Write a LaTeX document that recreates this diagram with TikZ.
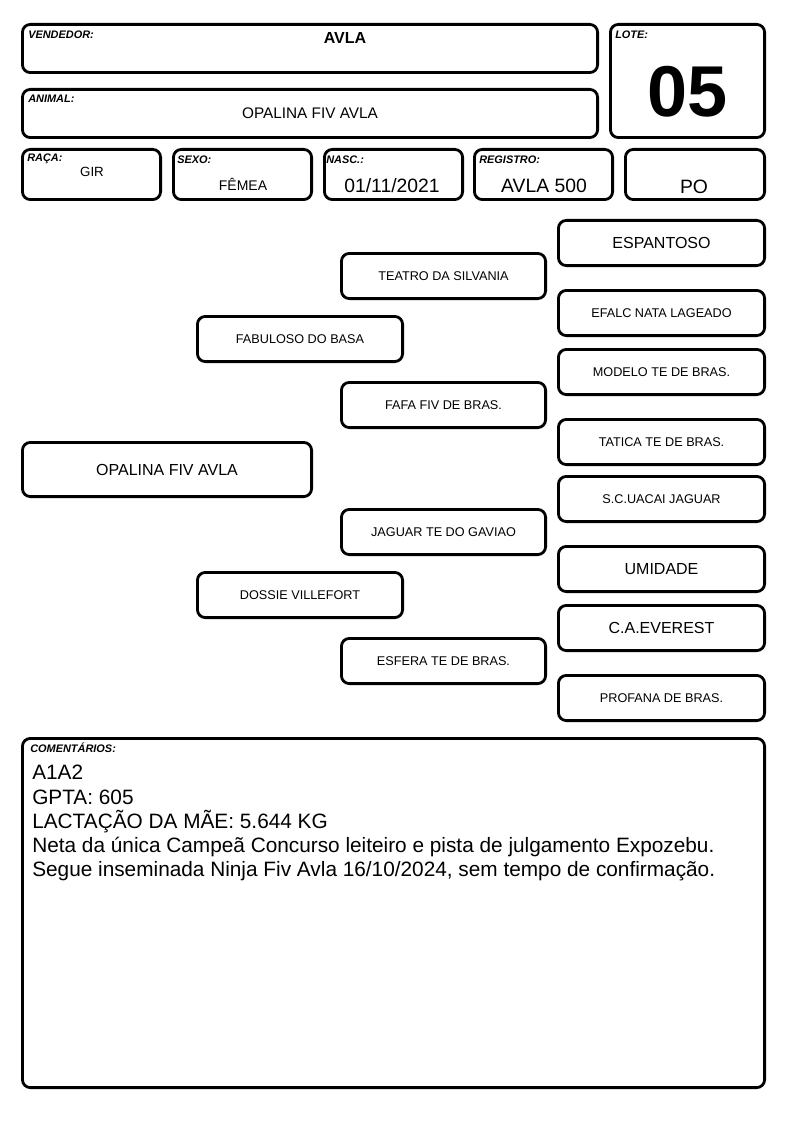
\documentclass[tikz,border=0pt]{standalone}
\usepackage{fontspec}
\setmainfont{Liberation Sans}
\tikzset{
  x=0.75pt, y=-0.75pt,
  box/.style={draw, line width=2.1pt, rounded corners=6pt, inner sep=0pt, align=center},
  sz/.style 2 args={minimum width=#1*0.75pt-2.1pt, minimum height=#2*0.75pt-2.1pt},
  lbl/.style={inner sep=0pt, anchor=west, font=\fontsize{8.2}{9}\selectfont\bfseries\itshape},
  val/.style={inner sep=0pt, font=\fontsize{14.5}{16}\selectfont},
  pedbig/.style={box, sz={209}{48}, font=\fontsize{12}{14}\selectfont},
  pedsmall/.style={box, sz={209}{48}, font=\fontsize{9.5}{11}\selectfont}
}
\begin{document}
\begin{tikzpicture}
    \useasboundingbox (0,0) rectangle (794,1123);

    % header
    \node (vend) at (310,48.5) [box, sz={578}{51}] {};
    \node (lote) at (687.5,81) [box, sz={157}{116}] {};
    \node (animal) at (310,113.5) [box, sz={578}{51}] {};
    \node (raca) at (91.5,174.5) [box, sz={141}{53}] {};
    \node (sexo) at (242.5,174.5) [box, sz={141}{53}] {};
    \node (nasc) at (393.5,174.5) [box, sz={141}{53}] {};
    \node (reg) at (543.5,174.5) [box, sz={141}{53}] {};
    \node (cat) at (695,174.5) [box, sz={142}{53}] {};

    \node (vendlbl) at (28,35) [lbl] {VENDEDOR:};
    \node (lotelbl) at (615,35) [lbl] {LOTE:};
    \node (animallbl) at (28,99) [lbl] {ANIMAL:};
    \node (racalbl) at (27,159) [lbl] {RAÇA:};
    \node (sexolbl) at (177,160) [lbl] {SEXO:};
    \node (nasclbl) at (326,160) [lbl] {NASC.:};
    \node (reglbl) at (479,160) [lbl] {REGISTRO:};

    \node (vendval) at (345,38) [val, font=\fontsize{12}{14}\selectfont\bfseries] {AVLA};
    \node (loteval) at (688,92) [val, font=\fontsize{54}{60}\selectfont\bfseries] {05};
    \node (animalval) at (310,113) [val, font=\fontsize{11.5}{13}\selectfont] {OPALINA FIV AVLA};
    \node (racaval) at (92,172) [val, font=\fontsize{10}{12}\selectfont] {GIR};
    \node (sexoval) at (243,184) [val, font=\fontsize{10.5}{12}\selectfont] {FÊMEA};
    \node (nascval) at (392,186) [val] {01/11/2021};
    \node (regval) at (544,186) [val] {AVLA 500};
    \node (catval) at (694,187) [val] {PO};

    % pedigree
    \node (animalped) at (167,469.5) [pedbig, sz={292}{57}] {OPALINA FIV AVLA};
    \node (pai) at (300,339) [pedsmall, sz={208}{48}] {FABULOSO DO BASA};
    \node (mae) at (300,595) [pedsmall, sz={208}{48}] {DOSSIE VILLEFORT};
    \node (avop) at (443.5,276) [pedsmall, sz={207}{48}] {TEATRO DA SILVANIA};
    \node (avap) at (443.5,405) [pedsmall, sz={207}{48}] {FAFA FIV DE BRAS.};
    \node (avom) at (443.5,532) [pedsmall, sz={207}{48}] {JAGUAR TE DO GAVIAO};
    \node (avam) at (443.5,661) [pedsmall, sz={207}{48}] {ESFERA TE DE BRAS.};
    \node (bis1) at (661.5,243) [pedbig] {ESPANTOSO};
    \node (bis2) at (661.5,313) [pedsmall] {EFALC NATA LAGEADO};
    \node (bis3) at (661.5,372) [pedsmall] {MODELO TE DE BRAS.};
    \node (bis4) at (661.5,442) [pedsmall] {TATICA TE DE BRAS.};
    \node (bis5) at (661.5,499) [pedsmall] {S.C.UACAI JAGUAR};
    \node (bis6) at (661.5,569) [pedbig] {UMIDADE};
    \node (bis7) at (661.5,628) [pedbig] {C.A.EVEREST};
    \node (bis8) at (661.5,698) [pedsmall] {PROFANA DE BRAS.};

    % comentarios
    \node (coment) at (393.5,913) [box, sz={745}{352}] {};
    \node (comentlbl) at (30,748) [lbl] {COMENTÁRIOS:};
    \node (comentval) at (32,765) [inner sep=0pt, anchor=north west, align=left,
        font=\fontsize{15.6}{18.2}\selectfont]
        {A1A2\\GPTA: 605\\LACTAÇÃO DA MÃE: 5.644 KG\\
         Neta da única Campeã Concurso leiteiro e pista de julgamento Expozebu.\\
         Segue inseminada Ninja Fiv Avla 16/10/2024, sem tempo de confirmação.};
\end{tikzpicture}
\end{document}
